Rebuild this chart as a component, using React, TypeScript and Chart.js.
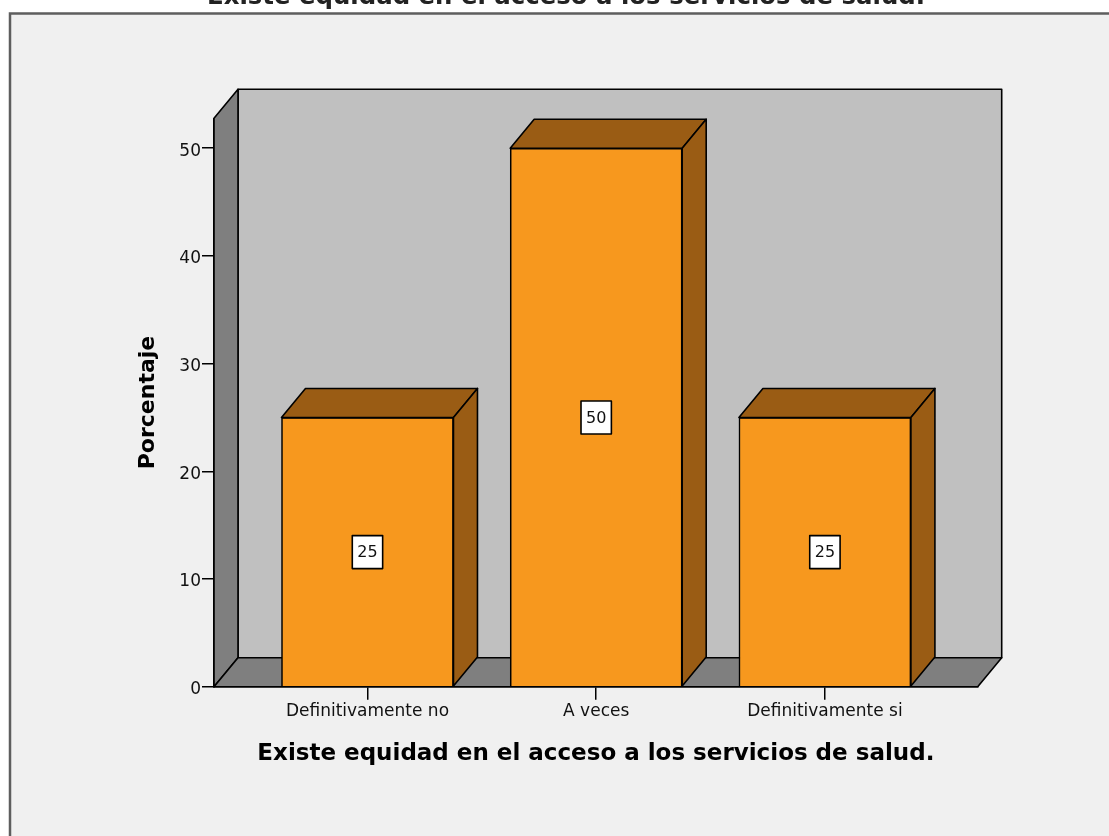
import React, { useEffect, useRef } from "react";
import { Chart, registerables } from "chart.js";

Chart.register(...registerables);

const chartTitle = "Existe equidad en el acceso a los servicios de salud.";
const xAxisTitle = "Existe equidad en el acceso a los servicios de salud.";
const yAxisTitle = "Porcentaje";
const categories = ["Definitivamente no", "A veces", "Definitivamente si"];
const percentages = [25, 50, 25];
const valueLabels = ["25", "50", "25"];
const yTicks = [0, 10, 20, 30, 40, 50];

const FRONT = "#F7981E";
const DARK_FACE = "#9A5C14";
const BACK_WALL = "#C0C0C0";
const SIDE_WALL = "#7F7F7F";
const PANEL = "#F0F0F0";
const DX = 24;
const DY = 29;
const FONT = "'DejaVu Sans', sans-serif";

const W = 1109;
const H = 836;

function poly(ctx: CanvasRenderingContext2D, pts: number[][], fill: string) {
  ctx.beginPath();
  ctx.moveTo(pts[0][0], pts[0][1]);
  for (let i = 1; i < pts.length; i++) ctx.lineTo(pts[i][0], pts[i][1]);
  ctx.closePath();
  ctx.fillStyle = fill;
  ctx.fill();
  ctx.lineWidth = 1.6;
  ctx.strokeStyle = "#000";
  ctx.lineJoin = "round";
  ctx.stroke();
}

const framePlugin = {
  id: "frame3d",
  beforeDraw(chart: any) {
    const ctx = chart.ctx as CanvasRenderingContext2D;
    ctx.save();
    ctx.fillStyle = "#fff";
    ctx.fillRect(0, 0, W, H);
    ctx.fillStyle = PANEL;
    ctx.fillRect(10, 13.5, W + 50, H + 50);
    ctx.lineWidth = 2.5;
    ctx.strokeStyle = "#5e5e5e";
    ctx.strokeRect(10, 13.5, W + 50, H + 50);
    ctx.restore();
  },
  beforeDatasetsDraw(chart: any) {
    const ctx = chart.ctx as CanvasRenderingContext2D;
    const { left, right, top, bottom } = chart.chartArea;
    ctx.save();
    poly(ctx, [[left + DX, top - DY], [right + DX, top - DY], [right + DX, bottom - DY], [left + DX, bottom - DY]], BACK_WALL);
    poly(ctx, [[left, top], [left + DX, top - DY], [left + DX, bottom - DY], [left, bottom]], SIDE_WALL);
    poly(ctx, [[left, bottom], [left + DX, bottom - DY], [right + DX, bottom - DY], [right, bottom]], SIDE_WALL);
    ctx.restore();
  },
  afterDatasetsDraw(chart: any) {
    const ctx = chart.ctx as CanvasRenderingContext2D;
    const meta = chart.getDatasetMeta(0);
    const yScale = chart.scales.y;
    ctx.save();
    meta.data.forEach((el: any, i: number) => {
      const { x, y, base, width } = el.getProps(["x", "y", "base", "width"], true);
      const xl = x - width / 2;
      const xr = x + width / 2;
      poly(ctx, [[xl, y], [xl + DX, y - DY], [xr + DX, y - DY], [xr, y]], DARK_FACE);
      poly(ctx, [[xr, y], [xr + DX, y - DY], [xr + DX, base - DY], [xr, base]], DARK_FACE);
      const ly = yScale.getPixelForValue(percentages[i] / 2);
      ctx.font = `16px ${FONT}`;
      const tw = ctx.measureText(valueLabels[i]).width;
      const bw = tw + 10;
      const bh = 33;
      ctx.fillStyle = "#fff";
      ctx.fillRect(x - bw / 2, ly - bh / 2, bw, bh);
      ctx.lineWidth = 1.6;
      ctx.strokeStyle = "#000";
      ctx.strokeRect(x - bw / 2, ly - bh / 2, bw, bh);
      ctx.fillStyle = "#111";
      ctx.textAlign = "center";
      ctx.textBaseline = "middle";
      ctx.fillText(valueLabels[i], x, ly + 1);
    });
    ctx.restore();
  },
  afterDraw(chart: any) {
    const ctx = chart.ctx as CanvasRenderingContext2D;
    ctx.save();
    ctx.font = `bold 24.4px ${FONT}`;
    ctx.fillStyle = "#222";
    ctx.textAlign = "center";
    ctx.textBaseline = "alphabetic";
    ctx.fillText(chartTitle, 566, 3.5);
    ctx.restore();
  },
};

export default function App() {
  const ref = useRef<HTMLCanvasElement | null>(null);
  useEffect(() => {
    if (!ref.current) return;
    const chart = new Chart(ref.current, {
      type: "bar",
      data: {
        datasets: [
          {
            data: percentages.map((v, i) => ({ x: i, y: v })),
            backgroundColor: FRONT,
            borderColor: "#000",
            borderWidth: 1.6,
            barThickness: 172,
          } as any,
        ],
      },
      options: {
        responsive: false,
        animation: false,
        devicePixelRatio: 1,
        layout: { padding: { left: 0, top: 118.3, right: W - 977.7, bottom: H - 686.7 - 120 } },
        plugins: { legend: { display: false }, tooltip: { enabled: false }, title: { display: false } },
        scales: {
          x: {
            type: "linear",
            min: -0.671,
            max: 2.668,
            offset: false,
            afterBuildTicks: (s: any) => {
              s.ticks = categories.map((_, i) => ({ value: i }));
            },
            afterFit: (s: any) => {
              s.height = 120;
            },
            grid: { display: true, offset: false, drawOnChartArea: false, drawTicks: true, tickLength: 13, color: "#000", lineWidth: 1.5 },
            border: { display: true, color: "#000", width: 1.5 },
            ticks: {
              padding: 2,
              color: "#111",
              font: { family: FONT, size: 17 },
              maxRotation: 0,
              autoSkip: false,
              callback: (v: any) => categories[Math.round(Number(v))] ?? "",
            },
            title: {
              display: true,
              text: xAxisTitle,
              color: "#000",
              font: { family: FONT, size: 23, weight: "bold" },
              padding: { top: 0, bottom: 39 },
            },
          },
          y: {
            type: "linear",
            min: 0,
            max: 52.78,
            afterBuildTicks: (s: any) => {
              s.ticks = yTicks.map((v) => ({ value: v }));
            },
            afterFit: (s: any) => {
              s.width = 214;
            },
            grid: { display: true, offset: false, drawOnChartArea: false, drawTicks: true, tickLength: 12, color: "#000", lineWidth: 1.5 },
            border: { display: true, color: "#000", width: 1.5 },
            ticks: {
              padding: 1,
              color: "#111",
              labelOffset: 3,
              font: { family: FONT, size: 17 },
              callback: (v: any) => String(v),
            },
            title: {
              display: true,
              text: yAxisTitle,
              color: "#000",
              font: { family: FONT, size: 22, weight: "bold" },
              padding: { top: 134.8, bottom: 0 },
            },
          },
        },
      } as any,
      plugins: [framePlugin],
    });
    return () => chart.destroy();
  }, []);
  return (
    <div style={{ position: "absolute", left: 0, top: 0, width: W, height: H }}>
      <canvas ref={ref} width={W} height={H} style={{ display: "block", width: W, height: H }} />
    </div>
  );
}
